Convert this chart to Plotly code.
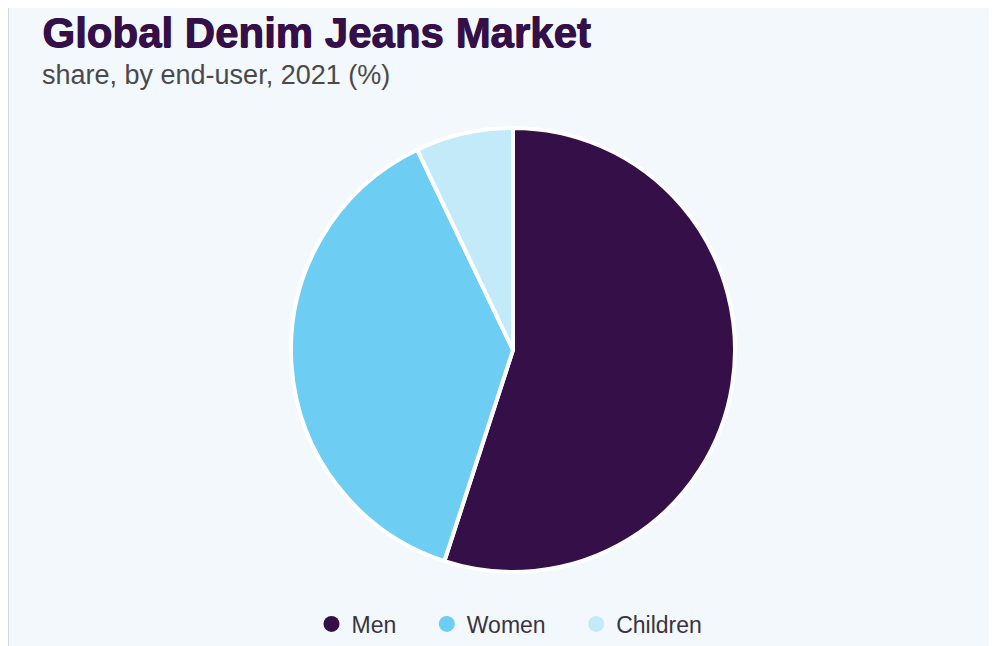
import plotly.graph_objects as go

categories = ["Men", "Women", "Children"]
shares = [55.0, 37.9, 7.1]
colors = ["#350f47", "#6dcdf2", "#c2eaf9"]

# page body has an 8px margin: work in screen pixels and convert
OFF = 8
W, H = 989, 638
MT, MB = 120, 74
PH = H - MT - MB

def px_x(px):
    return (px - OFF) / W

def px_y(py):
    return (H - MB - (py - OFF)) / PH

pad = "\u00a0" * 4

fig = go.Figure()
fig.add_trace(go.Pie(
    labels=categories, values=shares, sort=False, direction="clockwise", rotation=0,
    marker=dict(colors=colors, line=dict(color="white", width=4)),
    textinfo="none", hoverinfo="label+percent", showlegend=False,
    domain=dict(x=[px_x(263), px_x(763)], y=[0, 1]),
))
for cat, col in zip(categories, colors):
    fig.add_trace(go.Scatter(
        x=[None], y=[None], mode="markers", name=cat + pad,
        marker=dict(color=col, size=18, symbol="circle", line=dict(width=0)), showlegend=True,
    ))

bg = "#f3f8fc"
font_family = "Liberation Sans, Arial, sans-serif"
title_col = "#350f47"
fig.update_layout(
    width=W, height=H,
    margin=dict(l=0, r=0, t=MT, b=MB),
    paper_bgcolor=bg, plot_bgcolor=bg,
    xaxis=dict(visible=False), yaxis=dict(visible=False),
    showlegend=True,
    legend=dict(orientation="h", x=px_x(522), xanchor="center", y=px_y(624), yanchor="middle",
                font=dict(family=font_family, size=23, color="#3a3440"),
                bgcolor="rgba(0,0,0,0)", itemsizing="trace", traceorder="normal"),
    shapes=[
        dict(type="line", xref="paper", yref="paper", x0=px_x(8), x1=px_x(8), y0=px_y(700), y1=px_y(0),
             line=dict(color="#d6d6d6", width=2), layer="below"),
    ],
    annotations=[
        dict(text="<b>Global Denim Jeans Market</b>", xref="paper", yref="paper",
             x=px_x(40), y=px_y(32), xanchor="left", yanchor="middle", showarrow=False,
             font=dict(family=font_family, size=42, color=title_col,
                       shadow=f"1px 0 0 {title_col}, 0.5px 0.5px 0 {title_col}")),
        dict(text="share, by end-user, 2021 (%)", xref="paper", yref="paper",
             x=px_x(40), y=px_y(75), xanchor="left", yanchor="middle", showarrow=False,
             font=dict(family=font_family, size=27, color="#4a4a4a")),
    ],
)

fig.write_html("out.html")
